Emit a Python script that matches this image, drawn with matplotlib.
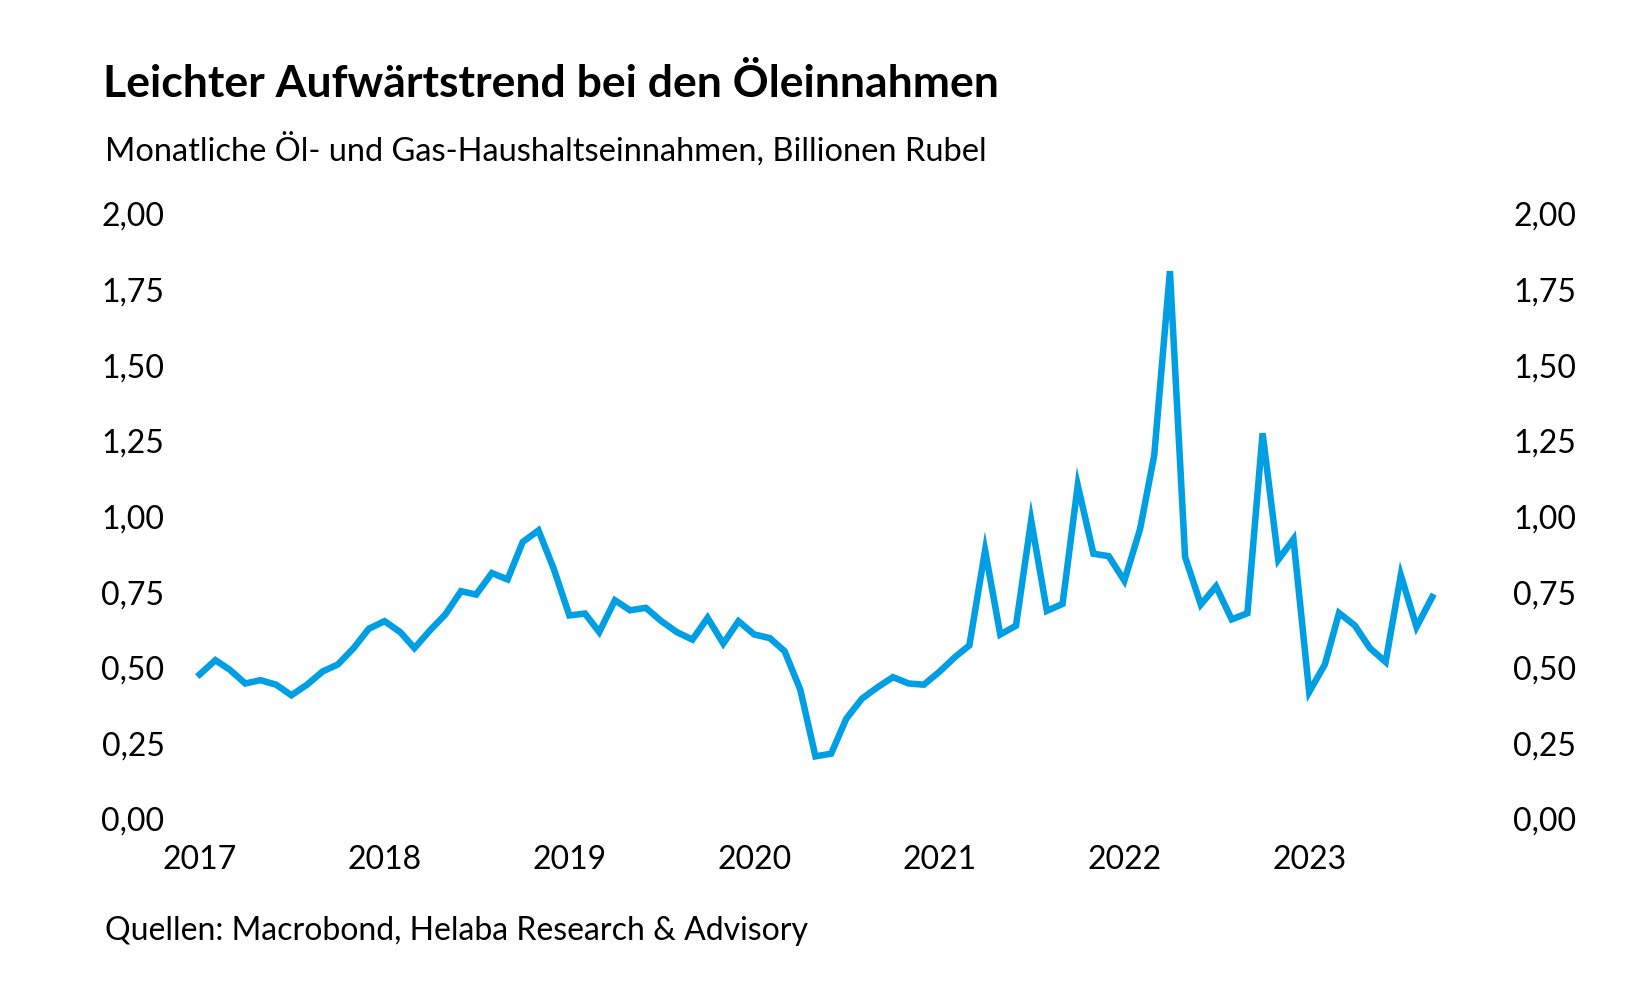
import numpy as np
import pandas as pd
import matplotlib
matplotlib.use("Agg")
from matplotlib import pyplot as plt
from matplotlib.ticker import FuncFormatter

# monatliche Öl- und Gaseinnahmen, Billionen Rubel (Jan 2017 - Sep 2023)
months = pd.date_range("2017-01-01", periods=81, freq="MS")
revenue = [
    0.478, 0.525, 0.494, 0.448, 0.459, 0.444, 0.409, 0.444, 0.488, 0.511, 0.565, 0.629,
    0.654, 0.618, 0.565, 0.624, 0.676, 0.753, 0.742, 0.813, 0.792, 0.916, 0.954, 0.828,
    0.673, 0.679, 0.618, 0.723, 0.690, 0.698, 0.655, 0.618, 0.593, 0.665, 0.580, 0.654,
    0.610, 0.598, 0.555, 0.428, 0.207, 0.216, 0.332, 0.398, 0.436, 0.469, 0.448, 0.444,
    0.487, 0.536, 0.574, 0.888, 0.610, 0.639, 0.987, 0.688, 0.711, 1.103, 0.877, 0.869,
    0.788, 0.958, 1.202, 1.811, 0.866, 0.709, 0.769, 0.660, 0.680, 1.275, 0.857, 0.925,
    0.420, 0.511, 0.681, 0.640, 0.565, 0.519, 0.806, 0.635, 0.734,
]
year_ticks = pd.date_range("2017-01-01", periods=7, freq="YS")
year_labels = [str(d.year) for d in year_ticks]
y_ticks = [0.0, 0.25, 0.5, 0.75, 1.0, 1.25, 1.5, 1.75, 2.0]

title = "Leichter Aufwärtstrend bei den Öleinnahmen"
subtitle = "Monatliche Öl- und Gas-Haushaltseinnahmen, Billionen Rubel"
source = "Quellen: Macrobond, Helaba Research & Advisory"

plt.rcParams["font.family"] = ["Lato", "DejaVu Sans"]
W, H = 1650, 1000
fig = plt.figure(figsize=(W / 100, H / 100), dpi=100)

# Achsenbereich in Pixeln: links 184, rechts 1494, unten 819, oben 214
ax = fig.add_axes([184 / W, 1 - 819 / H, (1494 - 184) / W, (819 - 214) / H])
ax.plot(months, revenue, color="#009FE3", lw=4.7, solid_joinstyle="miter", clip_on=False)

ax.set_ylim(0, 2)
ax.set_xlim(pd.Timestamp("2016-12-01"), pd.Timestamp("2024-01-01"))
ax.set_yticks(y_ticks)
ax.yaxis.set_major_formatter(FuncFormatter(lambda v, p: f"{v:.2f}".replace(".", ",")))
ax.set_xticks(year_ticks)
ax.set_xticklabels(year_labels)
ax.tick_params(axis="y", length=0, pad=14, labelsize=23, labelleft=True, labelright=True)
ax.tick_params(axis="x", length=0, pad=19, labelsize=23)
for s in ax.spines.values():
    s.set_visible(False)

fig.text(103 / W, 1 - 84 / H, title, fontsize=32, fontweight="bold", va="center", ha="left")
fig.text(105 / W, 1 - 149 / H, subtitle, fontsize=23.5, va="center", ha="left")
fig.text(105 / W, 1 - 931 / H, source, fontsize=23, va="center", ha="left")

fig.savefig("out.png", dpi=100)
